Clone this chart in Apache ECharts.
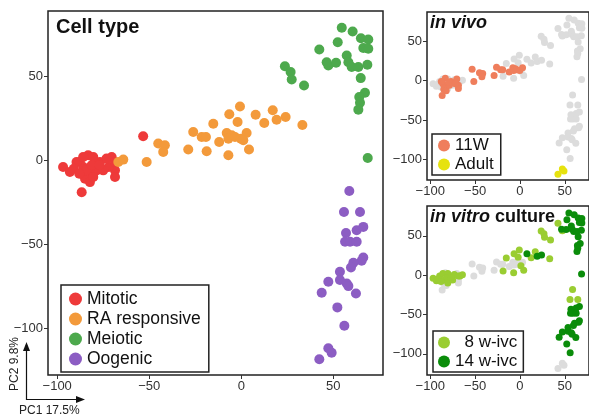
<!DOCTYPE html>
<html>
<head>
<meta charset="utf-8">
<script src="https://cdn.jsdelivr.net/npm/echarts@6/dist/echarts.min.js"></script>
<style>
  html, body { margin: 0; padding: 0; background: #fff; }
  #chart { width: 589px; height: 419px; }
</style>
</head>
<body>
<div id="chart"></div>
<script>
// PC1 / PC2 coordinates, split by cell type and sample
const mitotic11W = [[-83.2, 3], [-76.8, -1], [-70.4, 2], [-85.9, -4], [-82.2, -8], [-84.9, -11], [-82.2, -13],
  [-78.6, -6], [-68.6, -6], [-68.6, -10], [-86.7, -19], [-78.6, -2], [-87.7, -1], [-72, -4], [-53.3, 14.3]]
const mitotic8w = [[-96.8, -4], [-93.1, -7], [-89.5, -1], [-85.9, 2], [-80.4, 2], [-73.2, 1], [-68.6, -1],
  [-84, -6], [-80.4, -10], [-75, -6], [-81.3, -3], [-91, -5], [-77, -3], [-88, -8]]
const ra11W = [[-51.4, -1], [-45.1, 10], [-41.5, 9], [-42.4, 5], [-28.8, 6.4], [-26.1, 16.9], [-21.5, 13.9],
  [-19.2, 13.9], [-12, 10.9], [-7.9, 16.3], [-5.2, 14.9], [-7, 12.9], [-3.4, 13.9], [-0.2, 12.9], [2.9, 16.3]]
const ra8w = [[-66.8, -1], [-64.1, 0.4], [-18.8, 5.4], [-15.2, 21.8], [-6.5, 27.4], [-0.7, 32.1], [-2, 22.8],
  [1.1, 11.9], [-7, 3], [4.2, 6.4], [12.5, 22.2], [17.1, 29.8], [33.2, 21]]
const ra14w = [[7.8, 27.2], [19.2, 24.2], [24.1, 25.8]]
const meiotic8w = [[23.7, 56.1], [26.8, 52.6], [27.4, 48.2], [34.1, 44.6], [42.4, 66.1], [47.3, 56.5]]
const meiotic14w = [[54.6, 79], [60.5, 76.8], [65, 72.8], [69, 72], [66.3, 66.9], [69, 66.5], [52.4, 70.4],
  [46.4, 58.5], [51.5, 58.1], [57.3, 62.5], [58.2, 58.5], [60, 55.6], [63.6, 55.6], [68.5, 57], [64.9, 49],
  [67.2, 40.3], [64.1, 37.7], [64.5, 34.3], [63.6, 30.2], [68.7, 1.4]]
const oogenic8w = [[58.7, -18.3], [55.8, -30.8], [64.5, -30.8]]
const oogenic14w = [[56.9, -43.3], [62.7, -41.7], [66.3, -39.7], [56.4, -48.6], [59.1, -48.6], [62.7, -48.6],
  [66.3, -57.9], [65.4, -59.9], [60.9, -61.1], [59.6, -63.9], [53.6, -66.5], [53.6, -71.4], [57.3, -73.4],
  [58.2, -75], [47.3, -72.4], [43.7, -79], [62.3, -79.4], [52.2, -87.7], [56, -98.6]]
const oogenicAdult = [[47.3, -112.1], [49.1, -114.7], [42.4, -118.6]]

const cellTypes = ['Mitotic', 'RA responsive', 'Meiotic', 'Oogenic']
const xTicks = [-100, -50, 0, 50]
const yTicks = [50, 0, -50, -100]

const FONT = 'Liberation Sans, Arial, Helvetica, sans-serif'
const GRAY = '#DCDCDC'

// 按样本汇总
const sample11W = mitotic11W.concat(ra11W)
const sample8w = mitotic8w.concat(ra8w, meiotic8w, oogenic8w)
const sample14w = ra14w.concat(meiotic14w, oogenic14w)

function axes(grid, xMin, xMax, yMin, yMax) {
  const fmt = v => String(v).replace('-', '\u2212')
  const common = {
    type: 'value',
    gridIndex: grid,
    // 坐标轴贴在边框上，不跟随 0
    axisLine: { show: false, onZero: false },
    splitLine: { show: false },
    axisTick: { show: true, length: 4, lineStyle: { color: '#333', width: 1 } },
    axisLabel: { color: '#333', fontSize: 13, fontFamily: FONT, formatter: fmt, margin: 5 }
  }
  return {
    x: Object.assign({}, common, {
      min: xMin, max: xMax,
      axisTick: Object.assign({}, common.axisTick, { customValues: xTicks }),
      axisLabel: Object.assign({}, common.axisLabel, { customValues: xTicks })
    }),
    y: Object.assign({}, common, {
      min: yMin, max: yMax,
      axisTick: Object.assign({}, common.axisTick, { customValues: yTicks }),
      axisLabel: Object.assign({}, common.axisLabel, { customValues: yTicks })
    })
  }
}

function pts(name, data, color, xi, size, z) {
  return {
    name: name,
    type: 'scatter',
    xAxisIndex: xi,
    yAxisIndex: xi,
    data: data,
    symbolSize: size,
    z: z || 2,
    itemStyle: { color: color, opacity: 1 },
    emphasis: { disabled: true }
  }
}

const a0 = axes(0, -105, 77, -128, 89)
const a1 = axes(1, -103.6, 77, -126, 87)
const a2 = axes(2, -103.6, 77, -127, 88)

const chart = echarts.init(document.getElementById('chart'))
chart.setOption({
  animation: false,
  textStyle: { fontFamily: FONT },
  grid: [
    { left: 48, top: 11, width: 335, height: 364, show: true, borderColor: '#222', borderWidth: 1.5 },
    { left: 427, top: 12, width: 166, height: 168, show: true, borderColor: '#222', borderWidth: 1.5 },
    { left: 427, top: 206, width: 166, height: 169, show: true, borderColor: '#222', borderWidth: 1.5 }
  ],
  xAxis: [a0.x, a1.x, a2.x],
  yAxis: [a0.y, a1.y, a2.y],
  title: [
    {
      text: 'Cell type', left: 56, top: 17, padding: 0,
      textStyle: { fontSize: 20, fontWeight: 'bold', color: '#111', fontFamily: FONT }
    },
    {
      text: 'in vivo', left: 430, top: 14, padding: 0,
      textStyle: { fontSize: 18, fontWeight: 'bold', fontStyle: 'italic', color: '#111', fontFamily: FONT }
    },
    {
      text: '{i|in vitro} {b|culture}', left: 430, top: 208, padding: 0,
      textStyle: {
        fontFamily: FONT,
        rich: {
          i: { fontSize: 18, fontWeight: 'bold', fontStyle: 'italic', color: '#111', fontFamily: FONT },
          b: { fontSize: 18, fontWeight: 'bold', color: '#111', fontFamily: FONT }
        }
      }
    }
  ],
  legend: [
    {
      data: cellTypes, orient: 'vertical', left: 61, top: 285,
      selectedMode: false, icon: 'circle', itemWidth: 13, itemHeight: 13, itemGap: 2,
      padding: [5, 8, 4, 8], borderColor: '#222', borderWidth: 1.5, borderRadius: 0,
      textStyle: { fontSize: 17.5, lineHeight: 17, color: '#111', fontFamily: FONT }
    },
    {
      data: ['11W', 'Adult'], orient: 'vertical', left: 432, top: 134,
      selectedMode: false, icon: 'circle', itemWidth: 12, itemHeight: 12, itemGap: 2,
      padding: [3, 7, 2, 6], borderColor: '#222', borderWidth: 1.5,
      textStyle: { fontSize: 17, lineHeight: 17, color: '#111', fontFamily: FONT }
    },
    {
      data: ['8 w-ivc', '14 w-ivc'], orient: 'vertical', left: 433, top: 331,
      selectedMode: false, icon: 'circle', itemWidth: 12, itemHeight: 12, itemGap: 2,
      padding: [3, 6, 2, 5], borderColor: '#222', borderWidth: 1.5,
      formatter: name => name === '8 w-ivc' ? '\u2007' + name : name,
      textStyle: { fontSize: 17, lineHeight: 17, color: '#111', fontFamily: FONT }
    }
  ],
  series: [
    pts('Mitotic', mitotic11W.concat(mitotic8w), '#EE3A3A', 0, 10),
    pts('RA responsive', ra11W.concat(ra8w, ra14w), '#F39A3B', 0, 10),
    pts('Meiotic', meiotic8w.concat(meiotic14w), '#4DA94D', 0, 10),
    pts('Oogenic', oogenic8w.concat(oogenic14w, oogenicAdult), '#8C5DC3', 0, 10),
    // in vivo
    pts('other-vivo', sample8w.concat(sample14w), GRAY, 1, 7, 1),
    pts('11W', sample11W, '#EF7E5C', 1, 7),
    pts('Adult', oogenicAdult, '#E6E20E', 1, 7),
    // in vitro
    pts('other-vitro', sample11W.concat(oogenicAdult), GRAY, 2, 7, 1),
    pts('8 w-ivc', sample8w, '#9ACD32', 2, 7),
    pts('14 w-ivc', sample14w, '#0A8C0A', 2, 7, 3)
  ],
  graphic: [
    { type: 'polyline', shape: { points: [[26.5, 345], [26.5, 399.5], [81, 399.5]] }, style: { stroke: '#111', lineWidth: 1.2, fill: null } },
    { type: 'polygon', shape: { points: [[26.5, 342], [23, 351], [30, 351]] }, style: { fill: '#111' } },
    { type: 'polygon', shape: { points: [[85, 399.5], [76, 396], [76, 403]] }, style: { fill: '#111' } },
    {
      type: 'text', x: 15, y: 364, rotation: Math.PI / 2,
      style: { text: 'PC2 9.8%', font: '12px ' + FONT, fill: '#222', textAlign: 'center', textVerticalAlign: 'middle' }
    },
    {
      type: 'text', x: 19, y: 411,
      style: { text: 'PC1 17.5%', font: '12px ' + FONT, fill: '#222', textAlign: 'left', textVerticalAlign: 'middle' }
    }
  ]
})
</script>
</body>
</html>
